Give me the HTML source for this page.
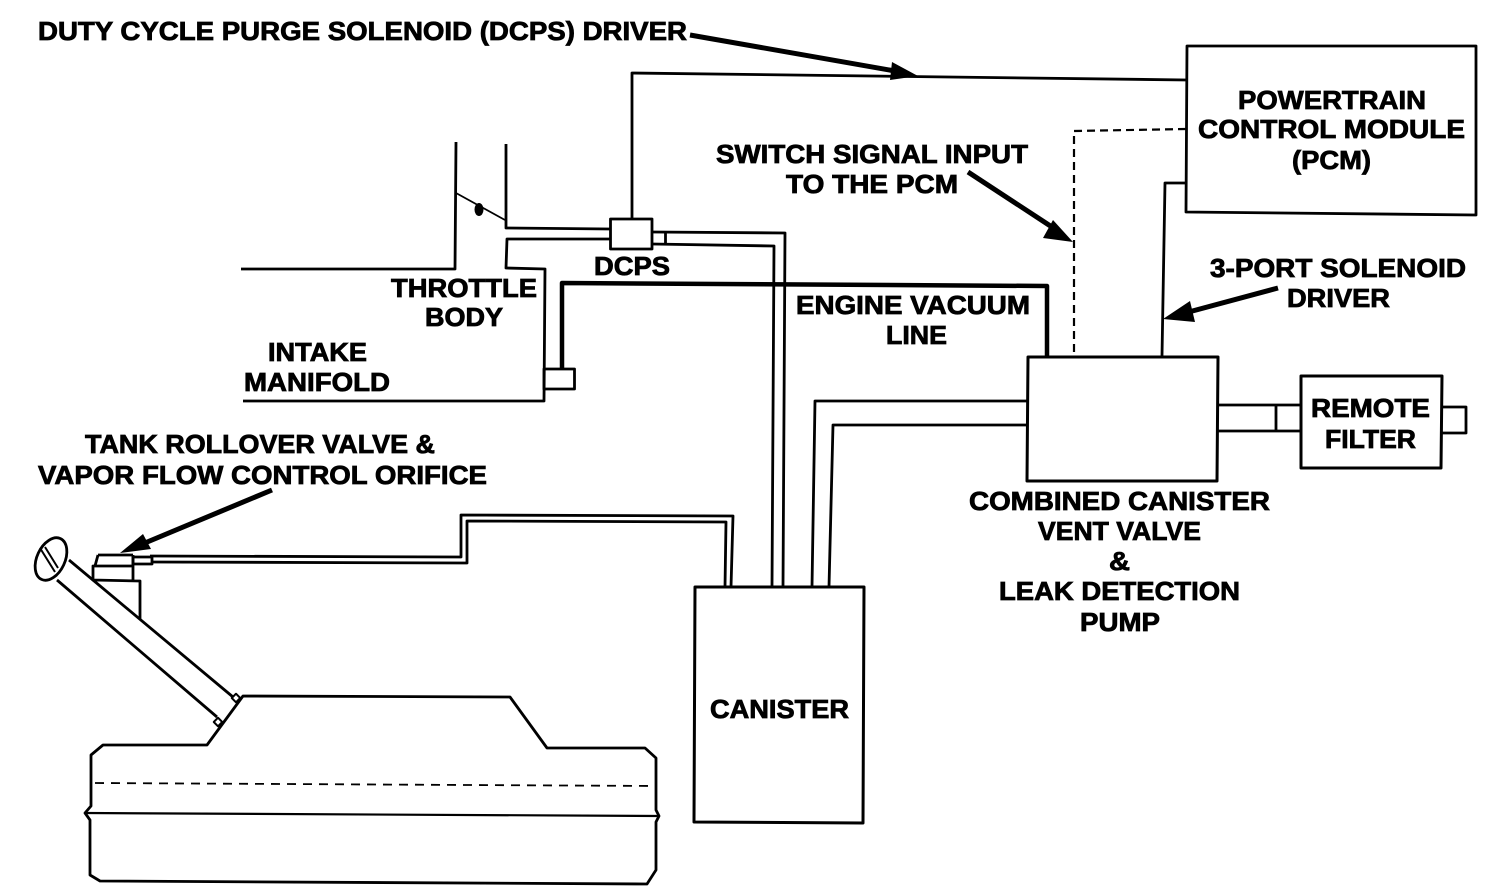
<!DOCTYPE html>
<html><head><meta charset="utf-8"><style>
html,body{margin:0;padding:0;background:#fff}
svg{display:block}
text{font-family:"Liberation Sans",sans-serif;font-weight:bold;font-size:26px;fill:#000;stroke:#000;stroke-width:.8px}
.l{fill:none;stroke:#000;stroke-width:2.8;stroke-linejoin:round}
.h{fill:#000;stroke:none}
</style></head><body>
<svg width="1504" height="886" viewBox="0 0 1504 886" xmlns="http://www.w3.org/2000/svg">
<!-- PCM -->
<path class="l" d="M1187,46 L1476,46 L1476,215 L1186,212 Z"/>
<path class="l" d="M632,219 L632,73 L1187,80"/>
<path class="l" d="M1186,129 L1074,131 L1074,355" stroke-dasharray="8 5" style="stroke-width:2.200"/>
<path class="l" d="M1186,183 L1165,183 L1162,356"/>
<!-- throttle -->
<path class="l" d="M456,142 L455,269 L241,269"/>
<path class="l" d="M506,144 L506,228 L610,229"/>
<path class="l" d="M610,239 L507,239 L506,268 L545,269 L544,401 L243,401"/>
<path class="l" style="stroke-width:1.800" d="M456,193 L505,220"/>
<ellipse class="h" cx="479" cy="209.500" rx="4.500" ry="6.500"/>
<rect class="l" x="610.500" y="219" width="41.500" height="30"/>
<path class="l" d="M652,232 L785,233 L783,587"/>
<path class="l" d="M652,244 L774,246 L772,587"/>
<path class="l" d="M665.500,232 L665.500,245"/>
<!-- engine vacuum -->
<rect class="l" x="544" y="369" width="30.500" height="20"/>
<path class="l" style="stroke-width:4.500" d="M562,369 L562,283 L1047,286 L1047,356"/>
<!-- vent valve -->
<path class="l" style="stroke-width:3" d="M1028,357 L1218,357 L1217,481 L1027,481 Z"/>
<path class="l" d="M1028,401 L815,401 L812,587"/>
<path class="l" d="M1028,425 L833,425 L829,587"/>
<!-- remote filter -->
<path class="l" style="stroke-width:3" d="M1301,376 L1442,376 L1441,468 L1301,468 Z"/>
<path class="l" d="M1218,405 L1301,405 M1218,431 L1301,431 M1276,405 L1276,431"/>
<path class="l" d="M1442,407 L1466,407 L1466,433 L1442,433"/>
<!-- canister -->
<path class="l" style="stroke-width:3" d="M695,587 L864,587 L863,823 L694,822 Z"/>
<!-- vapor line -->
<path class="l" d="M150,556 L461,557 L461,515 L733,516 L731,587"/>
<path class="l" d="M152,562 L467,563 L467,521 L726,522 L725,587"/>
<!-- rollover valve -->
<path class="l" d="M98,555 L133,555 M98,555 L95,566 L93,566 L93,580 L140,581 L140,620 M95,566 L133,566 M133,555 L133,581"/>
<rect class="l" x="133" y="557" width="19" height="7"/>
<!-- filler -->
<path class="l" d="M69,560 L233,697 M57,580 L217,717"/>
<ellipse cx="51" cy="559" rx="14" ry="22.500" transform="rotate(25 51 559)" fill="#fff" stroke="#000" stroke-width="2.800"/>
<path class="l" style="stroke-width:2" d="M40,548 L55,572 M45,547 L58,568"/>
<!-- tank -->
<path class="l" d="M243,696 L510,697 L547,748 L645,748 L656,758 L656,810 L659,816 L656,822 L656,870 L647,884 L100,881 L90,875 L90,820 L85,813 L91,806 L91,755 L103,745 L207,745 Z"/>
<path class="l" style="stroke-width:2.200" d="M85,813 L659,816"/>
<path class="l" style="stroke-width:1.800" stroke-dasharray="9 7" d="M95,783 L656,786"/>
<rect class="l" style="stroke-width:2" x="233" y="695" width="6" height="6" fill="#fff" transform="rotate(45 236 698)"/>
<rect class="l" style="stroke-width:2" x="215" y="719" width="6" height="6" fill="#fff" transform="rotate(45 218 722)"/>
<!-- arrows -->
<path class="l" style="stroke-width:5" d="M690,35 L895,71"/>
<polygon class="h" points="918,76 892,62 890,80"/>
<path class="l" style="stroke-width:5" d="M968,172 L1055,229"/>
<polygon class="h" points="1073,242 1053,220 1043,238"/>
<path class="l" style="stroke-width:5" d="M1278,288 L1185,313"/>
<polygon class="h" points="1163,319 1190,301 1195,322"/>
<path class="l" style="stroke-width:5" d="M272,490 L140,545"/>
<polygon class="h" points="120,553 143,534 151,549"/>
<!-- labels -->
<text x="38" y="40" textLength="649" lengthAdjust="spacingAndGlyphs">DUTY CYCLE PURGE SOLENOID (DCPS) DRIVER</text>
<text x="1238" y="109" textLength="188" lengthAdjust="spacingAndGlyphs">POWERTRAIN</text>
<text x="1198" y="138" textLength="267" lengthAdjust="spacingAndGlyphs">CONTROL MODULE</text>
<text x="1292" y="169" textLength="79" lengthAdjust="spacingAndGlyphs">(PCM)</text>
<text x="716" y="163" textLength="312" lengthAdjust="spacingAndGlyphs">SWITCH SIGNAL INPUT</text>
<text x="786" y="193" textLength="172" lengthAdjust="spacingAndGlyphs">TO THE PCM</text>
<text x="1210" y="277" textLength="256" lengthAdjust="spacingAndGlyphs">3-PORT SOLENOID</text>
<text x="1287" y="307" textLength="103" lengthAdjust="spacingAndGlyphs">DRIVER</text>
<text x="796" y="314" textLength="234" lengthAdjust="spacingAndGlyphs">ENGINE VACUUM</text>
<text x="886" y="344" textLength="61" lengthAdjust="spacingAndGlyphs">LINE</text>
<text x="391" y="297" textLength="146" lengthAdjust="spacingAndGlyphs">THROTTLE</text>
<text x="425" y="326" textLength="78" lengthAdjust="spacingAndGlyphs">BODY</text>
<text x="594" y="275" textLength="76" lengthAdjust="spacingAndGlyphs">DCPS</text>
<text x="268" y="361" textLength="99" lengthAdjust="spacingAndGlyphs">INTAKE</text>
<text x="244" y="391" textLength="146" lengthAdjust="spacingAndGlyphs">MANIFOLD</text>
<text x="85" y="453" textLength="350" lengthAdjust="spacingAndGlyphs">TANK ROLLOVER VALVE &amp;</text>
<text x="38" y="484" textLength="449" lengthAdjust="spacingAndGlyphs">VAPOR FLOW CONTROL ORIFICE</text>
<text x="1311" y="417" textLength="119" lengthAdjust="spacingAndGlyphs">REMOTE</text>
<text x="1325" y="448" textLength="91" lengthAdjust="spacingAndGlyphs">FILTER</text>
<text x="969" y="510" textLength="301" lengthAdjust="spacingAndGlyphs">COMBINED CANISTER</text>
<text x="1038" y="540" textLength="163" lengthAdjust="spacingAndGlyphs">VENT VALVE</text>
<text x="1109" y="570" textLength="21" lengthAdjust="spacingAndGlyphs">&amp;</text>
<text x="999" y="600" textLength="241" lengthAdjust="spacingAndGlyphs">LEAK DETECTION</text>
<text x="1080" y="631" textLength="80" lengthAdjust="spacingAndGlyphs">PUMP</text>
<text x="710" y="718" textLength="139" lengthAdjust="spacingAndGlyphs">CANISTER</text>
</svg>
</body></html>
